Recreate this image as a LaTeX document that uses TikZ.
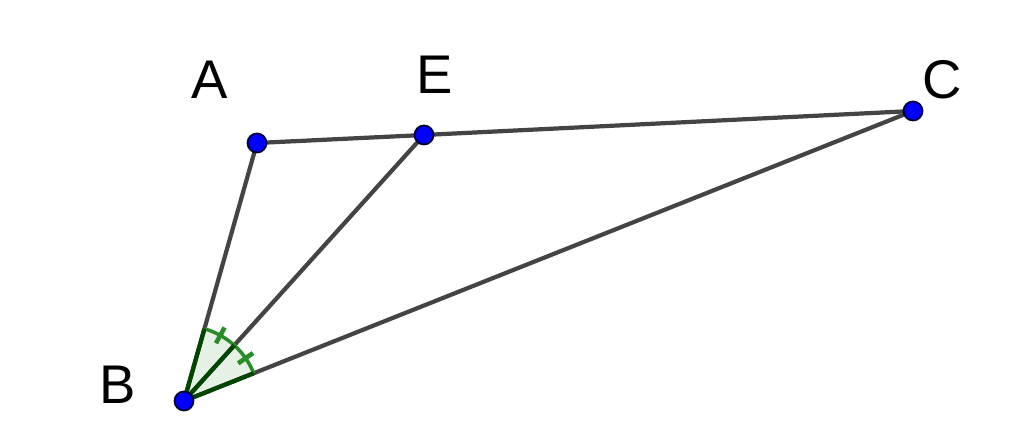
\documentclass[tikz,border=0pt]{standalone}
\usepackage{fontspec}
\setmainfont{Liberation Sans}
\usetikzlibrary{calc}
\definecolor{linegray}{RGB}{68,68,68}
\definecolor{angdark}{RGB}{0,70,0}
\definecolor{angtick}{RGB}{40,140,40}
\tikzset{
  pt/.style={circle,draw=black!80!blue,fill=blue,inner sep=0pt,minimum size=0.19cm,line width=0.5pt},
  lbl/.style={font=\fontsize{15.5}{15.5}\selectfont,inner sep=0pt},
  seg/.style={draw=linegray,line width=1.2pt},
  sector/.style={fill=angtick,fill opacity=0.12},
  radial/.style={draw=angdark,line width=1.2pt},
  arcline/.style={draw=angtick,line width=1pt},
  tick/.style={draw=angtick,line width=1.3pt}
}
\begin{document}
\begin{tikzpicture}
      \useasboundingbox (0,0) rectangle (10.24,4.48);
      \draw
        (1.84,0.47) coordinate (B)
        (2.57,3.05) coordinate (A)
        (4.24,3.13) coordinate (E)
        (9.13,3.37) coordinate (C);
      \begin{scope}[seg]
        \draw (A) to (E);
        \draw (E) to (C);
        \draw (A) to (B);
        \draw (B) to (E);
        \draw (B) to (C);
      \end{scope}
      % equal angles at B
      \fill[sector] (B) -- ++(74.2:0.75) arc (74.2:21.7:0.75) -- cycle;
      \draw[arcline] ($(B)+(74.2:0.75)$) arc (74.2:21.7:0.75);
      \foreach \a in {74.2,47.9,21.7}
        \draw[radial] (B) -- ($(B)+(\a:0.75)$);
      \foreach \a in {61.05,34.8}
        \draw[tick] ($(B)+(\a:0.66)$) coordinate (t1) -- ($(B)+(\a:0.84)$) coordinate (t2);
      \node[pt] (nA) at (A) {};
      \node[pt] (nE) at (E) {};
      \node[pt] (nC) at (C) {};
      \node[pt] (nB) at (B) {};
      \node[lbl] (lA) at (2.10,3.68) {A};
      \node[lbl] (lE) at (4.35,3.73) {E};
      \node[lbl] (lC) at (9.42,3.68) {C};
      \node[lbl] (lB) at (1.18,0.63) {B};
    \end{tikzpicture}
\end{document}
